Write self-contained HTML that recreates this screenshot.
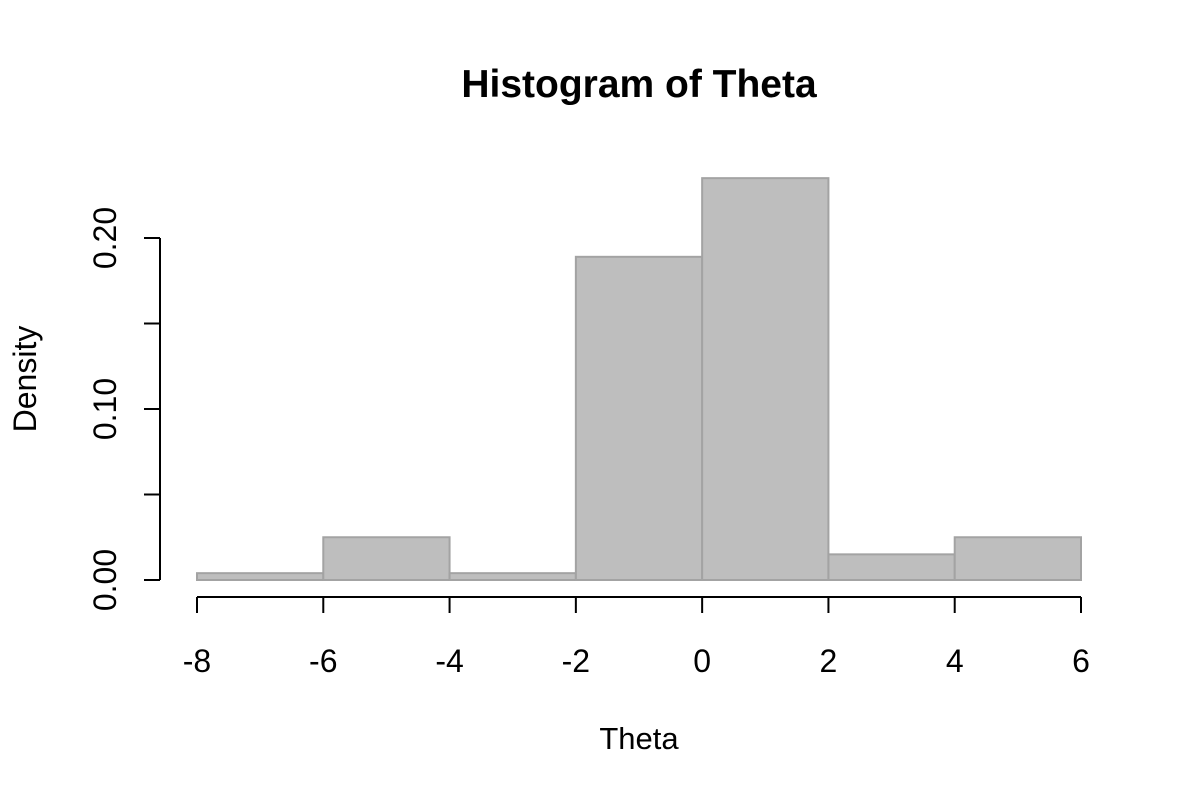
<!DOCTYPE html>
<html><head><meta charset="utf-8"><style>
html,body{margin:0;padding:0;background:#fff;}
svg text{font-family:"Liberation Sans",Arial,sans-serif;fill:#000;}
</style></head><body>
<svg id="chart" width="1200" height="800" viewBox="0 0 1200 800" xmlns="http://www.w3.org/2000/svg">
<rect width="1200" height="800" fill="#fff"/>
<text x="639" y="97" font-size="39" font-weight="bold" text-anchor="middle">Histogram of Theta</text>
<text x="639" y="749" font-size="31" text-anchor="middle">Theta</text>
<text x="36" y="379" font-size="32" text-anchor="middle" transform="rotate(-90 36 379)">Density</text>
<g id="bars"></g><g id="xaxis"></g><g id="yaxis"></g>
</svg>
<script>
const binEdges = [-8,-6,-4,-2,0,2,4,6];
const densities = [0.004,0.025,0.004,0.189,0.235,0.015,0.025];
const xTicks = [-8,-6,-4,-2,0,2,4,6];
const yTicks = [0,0.05,0.10,0.15,0.20];
const yTickLabels = ["0.00","","0.10","","0.20"];

const NS="http://www.w3.org/2000/svg";
const xs = v => 197 + (v - (-8)) * (1081-197)/14;
const ys = v => 580 - v * 1710;
function mk(tag, attrs, parent){const e=document.createElementNS(NS,tag);for(const k in attrs)e.setAttribute(k,attrs[k]);parent.appendChild(e);return e;}
const bars=document.getElementById('bars'), xa=document.getElementById('xaxis'), ya=document.getElementById('yaxis');
densities.forEach((d,i)=>{
  const x0=xs(binEdges[i]), x1=xs(binEdges[i+1]);
  const r=mk('rect',{x:x0,y:ys(d),width:x1-x0,height:ys(0)-ys(d),fill:'#bebebe',stroke:'#a3a3a3','stroke-width':2},bars);
  
  
});
const xl=mk('line',{x1:xs(xTicks[0]),x2:xs(xTicks[xTicks.length-1]),y1:597,y2:597,stroke:'#000','stroke-width':2},xa);


xTicks.forEach(t=>{
  const l=mk('line',{x1:xs(t),x2:xs(t),y1:597,y2:613,stroke:'#000','stroke-width':2},xa);
  
  
  const tx=mk('text',{x:xs(t),y:672,'font-size':32,'text-anchor':'middle'},xa);
  tx.textContent=String(t);
  
  
});
const yl=mk('line',{x1:160,x2:160,y1:ys(yTicks[0]),y2:ys(yTicks[yTicks.length-1]),stroke:'#000','stroke-width':2},ya);


yTicks.forEach((t,i)=>{
  const l=mk('line',{x1:144,x2:160,y1:ys(t),y2:ys(t),stroke:'#000','stroke-width':2},ya);
  
  
  if(yTickLabels[i]){
    const tx=mk('text',{x:116,y:ys(t),'font-size':32,'text-anchor':'middle',transform:'rotate(-90 116 '+ys(t)+')'},ya);
    tx.textContent=yTickLabels[i];
    
    
  }
});
</script>
</body></html>
